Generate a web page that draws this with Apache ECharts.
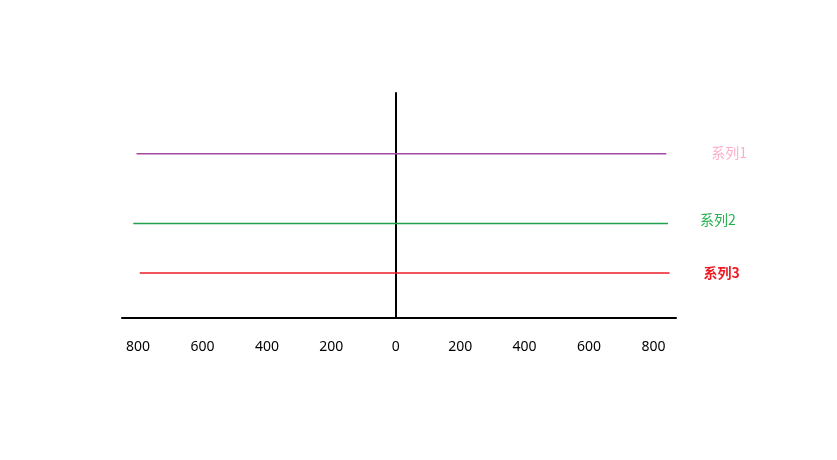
<!DOCTYPE html>
<html>
<head>
<meta charset="utf-8">
<script src="https://cdn.jsdelivr.net/npm/echarts@6/dist/echarts.min.js"></script>
<style>
  html, body { margin: 0; padding: 0; background: #fff; }
  #main { width: 837px; height: 460px; }
</style>
</head>
<body>
<div id="main"></div>
<script>
// data
const seriesNames = ['系列1', '系列2', '系列3'];
const seriesLevels = [73, 42, 20];
const seriesStart = [-805, -815, -795];
const seriesEnd = [840, 845, 850];
const tickValues = [-800, -600, -400, -200, 0, 200, 400, 600, 800];

const lineColors = ['#a349a4', '#22a04c', '#ed1c24'];
const labelColors = ['#ffaec9', '#22b14c', '#ed1c24'];
const labelDist = [45, 32, 34];
const labelShift = [-1, -4, 0];

let chart = echarts.init(document.getElementById('main'), null, {renderer: 'canvas'});

let series = seriesNames.map(function (name, i) {
  return {
    name: name,
    type: 'line',
    symbol: 'none',
    silent: true,
    lineStyle: {color: lineColors[i], width: 1.4, opacity: 1},
    data: [[seriesStart[i], seriesLevels[i]], [seriesEnd[i], seriesLevels[i]]],
    endLabel: {
      show: true,
      formatter: '{a}',
      distance: labelDist[i],
      offset: [0, labelShift[i]],
      color: labelColors[i],
      fontSize: 14,
      fontWeight: i === 2 ? 'bold' : 'normal',
      fontFamily: 'Noto Sans CJK SC'
    }
  };
});

let option = {
  backgroundColor: '#ffffff',
  animation: false,
  grid: {left: 122, right: 161, top: 93, bottom: 142},
  xAxis: {
    type: 'value',
    min: -850,
    max: 870,
    axisLine: {show: true, onZero: false, lineStyle: {color: '#000', width: 2}},
    axisTick: {show: false},
    splitLine: {show: false},
    axisLabel: {
      customValues: tickValues,
      margin: 22,
      color: '#000',
      fontSize: 14,
      fontFamily: 'Noto Sans',
      formatter: function (v) { return String(Math.abs(v)); }
    }
  },
  yAxis: {
    type: 'value',
    min: 0,
    max: 100,
    axisLine: {show: true, onZero: true, lineStyle: {color: '#000', width: 2}},
    axisTick: {show: false},
    axisLabel: {show: false},
    splitLine: {show: false}
  },
  series: series
};
chart.setOption(option);
</script>
</body>
</html>
